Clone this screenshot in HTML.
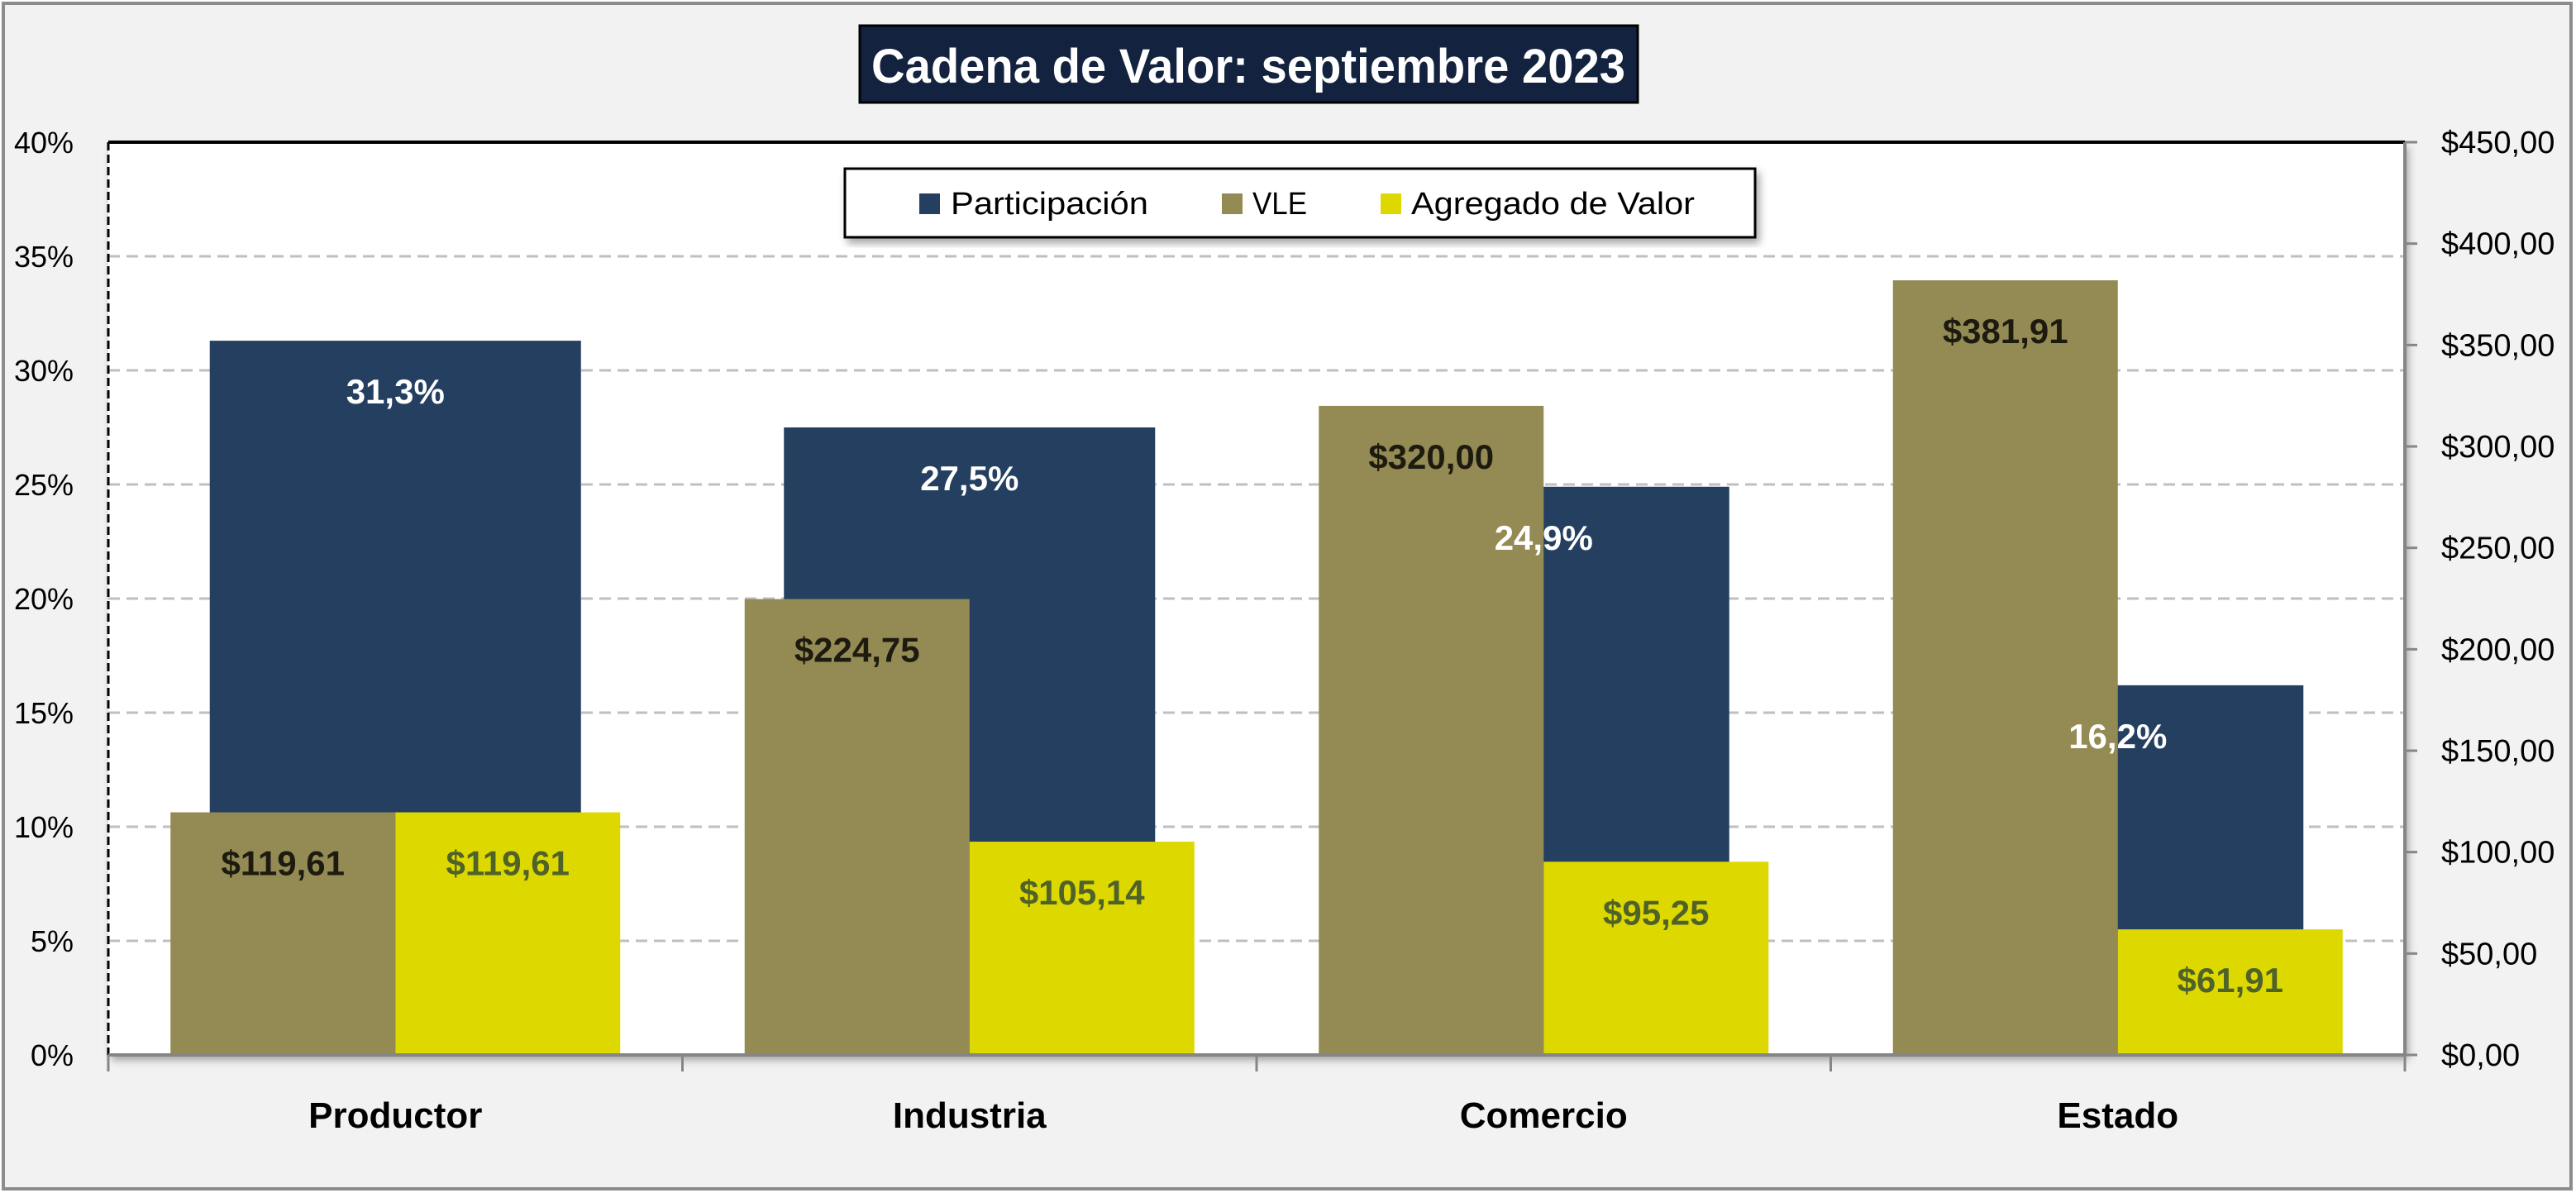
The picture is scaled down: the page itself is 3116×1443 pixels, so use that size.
<!DOCTYPE html>
<html><head><meta charset="utf-8"><style>
html,body{margin:0;padding:0;background:#fff}
svg{display:block}
text{font-family:"Liberation Sans",sans-serif}
</style></head><body>
<svg id="chart" width="3116" height="1443" viewBox="0 0 3116 1443" xmlns="http://www.w3.org/2000/svg">
<defs>
<filter id="sh" x="-5%" y="-5%" width="110%" height="120%"><feDropShadow dx="4" dy="6" stdDeviation="5" flood-color="#000" flood-opacity="0.35"/></filter>
</defs>
<rect x="4" y="4" width="3106" height="1434" fill="#f2f2f2" stroke="#8c8c8c" stroke-width="4"/>
<rect x="131" y="172" width="2778" height="1104" fill="#fff" filter="url(#sh)"/>
<g id="grid"></g>
<g id="bars"></g>
<g id="labels"></g>
<g id="axes"></g>
<g>
<rect x="1040" y="31" width="941" height="93" fill="#13233f" stroke="#000" stroke-width="3"/>
<text x="1054" y="100" fill="#fff" font-size="58" font-weight="bold" textLength="912" lengthAdjust="spacingAndGlyphs">Cadena de Valor: septiembre 2023</text>
</g>
<g>
<rect x="1022" y="204" width="1101" height="83" fill="#fff" stroke="#000" stroke-width="3" filter="url(#sh)"/>
<rect x="1112" y="234" width="25" height="25" fill="#243f60"/>
<text x="1150" y="259" font-size="38" textLength="239" lengthAdjust="spacingAndGlyphs">Participación</text>
<rect x="1478" y="234" width="25" height="25" fill="#948a54"/>
<text x="1515" y="259" font-size="38" textLength="66" lengthAdjust="spacingAndGlyphs">VLE</text>
<rect x="1670" y="234" width="25" height="25" fill="#ddd800"/>
<text x="1707" y="259" font-size="38" textLength="343" lengthAdjust="spacingAndGlyphs">Agregado de Valor</text>
</g>
</svg>
<script>
const categories = ["Productor","Industria","Comercio","Estado"];
const participacion = [31.3, 27.5, 24.9, 16.2];
const vle = [119.61, 224.75, 320.00, 381.91];
const agregado = [119.61, 105.14, 95.25, 61.91];
const leftTicks = [0,5,10,15,20,25,30,35,40];
const rightTicks = [0,50,100,150,200,250,300,350,400,450];

const NS = "http://www.w3.org/2000/svg";
const PL = 131, PR = 2909, PT = 172, PB = 1276;
const groupW = (PR - PL) / categories.length;
const yL = v => PB - (v / 40) * (PB - PT);
const yR = v => PB - (v / 450) * (PB - PT);
const xGroup = i => PL + i * groupW;
const fmtMoney = v => "$" + v.toFixed(2).replace(".", ",");
const fmtPct = v => v.toFixed(1).replace(".", ",") + "%";

function mk(tag, attrs, parent) {
  const e = document.createElementNS(NS, tag);
  for (const k in attrs) e.setAttribute(k, attrs[k]);
  parent.appendChild(e);
  return e;
}
const gridG = document.getElementById("grid");
const barsG = document.getElementById("bars");
const labelsG = document.getElementById("labels");
const axesG = document.getElementById("axes");

leftTicks.forEach(t => {
  if (t > 0 && t < 40) {
    const g = mk("line", {x1: PL, x2: PR, y1: yL(t), y2: yL(t), stroke: "#bfbfbf", "stroke-width": 3, "stroke-dasharray": "14 8"}, gridG);
    
    
  }
  const tx = mk("text", {x: 89, y: yL(t) + 13, "text-anchor": "end", "font-size": 36}, axesG);
  tx.textContent = t + "%";
  
  
});
rightTicks.forEach(t => {
  const tk = mk("line", {x1: PR, x2: PR + 15, y1: yR(t), y2: yR(t), stroke: "#868686", "stroke-width": 3}, axesG);
  
  
  const tx = mk("text", {x: 2953, y: yR(t) + 13, "font-size": 38}, axesG);
  tx.textContent = fmtMoney(t);
  
  
});

const pw = 449;
categories.forEach((c, i) => {
  const cx = xGroup(i) + groupW / 2;
  const r = mk("rect", {x: cx - pw / 2, y: yL(participacion[i]), width: pw, height: PB - yL(participacion[i]), fill: "#243f60"}, barsG);
  
  
  const t = mk("text", {x: cx, y: yL(participacion[i]) + 76, "text-anchor": "middle", "font-size": 42, "font-weight": "bold", fill: "#fff"}, labelsG);
  t.textContent = fmtPct(participacion[i]);
  
  
});
const sw = 272;
categories.forEach((c, i) => {
  const cx = xGroup(i) + groupW / 2;
  const r1 = mk("rect", {x: cx - sw, y: yR(vle[i]), width: sw, height: PB - yR(vle[i]), fill: "#948a54"}, barsG);
  
  
  const r2 = mk("rect", {x: cx, y: yR(agregado[i]), width: sw, height: PB - yR(agregado[i]), fill: "#ddd800"}, barsG);
  
  
  const t1 = mk("text", {x: cx - sw / 2, y: yR(vle[i]) + 76, "text-anchor": "middle", "font-size": 42, "font-weight": "bold", fill: "#1d1b10"}, labelsG);
  t1.textContent = fmtMoney(vle[i]);
  
  
  const t2 = mk("text", {x: cx + sw / 2, y: yR(agregado[i]) + 76, "text-anchor": "middle", "font-size": 42, "font-weight": "bold", fill: "#4f6228"}, labelsG);
  t2.textContent = fmtMoney(agregado[i]);
  
  
  const cl = mk("text", {x: cx, y: 1364, "text-anchor": "middle", "font-size": 44, "font-weight": "bold"}, axesG);
  cl.textContent = c;
  
  
});
const topBorder = mk("line", {x1: PL, x2: PR, y1: PT, y2: PT, stroke: "#000", "stroke-width": 4}, axesG);


const leftAxis = mk("line", {x1: PL, x2: PL, y1: PT, y2: PB, stroke: "#000", "stroke-width": 3, "stroke-dasharray": "10 5"}, axesG);


const rightAxis = mk("line", {x1: PR, x2: PR, y1: PT, y2: PB, stroke: "#868686", "stroke-width": 4}, axesG);


const xAxis = mk("line", {x1: PL, x2: PR, y1: PB, y2: PB, stroke: "#868686", "stroke-width": 4}, axesG);


for (let i = 0; i <= categories.length; i++) {
  const tk = mk("line", {x1: xGroup(i), x2: xGroup(i), y1: PB, y2: PB + 20, stroke: "#868686", "stroke-width": 3}, axesG);
  
  
}
</script>
</body></html>
